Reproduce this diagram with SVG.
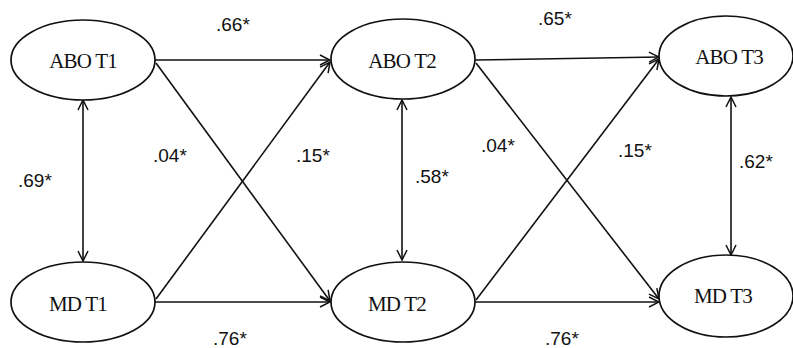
<svg xmlns="http://www.w3.org/2000/svg" width="793" height="348" viewBox="0 0 793 348">
<style>
.node ellipse{fill:#fff;stroke:#111;stroke-width:1.7}
.node text{font-family:"Liberation Serif","Times New Roman",serif;font-size:21px;fill:#111;text-anchor:middle;letter-spacing:-0.8px}
.edge{stroke:#111;stroke-width:1.6;fill:none;marker-end:url(#ah)}
.both{marker-start:url(#ahs)}
.lbl{font-family:"Liberation Sans",Arial,sans-serif;font-size:19px;fill:#111}
</style>
<defs>
<marker id="ah" viewBox="0 0 12 12" refX="11" refY="6" markerWidth="12" markerHeight="12" markerUnits="userSpaceOnUse" orient="auto">
<path d="M1,1 L11,6 L1,11" fill="none" stroke="#111" stroke-width="1.5"/>
</marker>
<marker id="ahs" viewBox="0 0 12 12" refX="11" refY="6" markerWidth="12" markerHeight="12" markerUnits="userSpaceOnUse" orient="auto-start-reverse">
<path d="M1,1 L11,6 L1,11" fill="none" stroke="#111" stroke-width="1.5"/>
</marker>
</defs>
<rect width="793" height="348" fill="#fff"/>
<g id="connectors">
<line class="edge" x1="155" y1="60" x2="330" y2="60"/>
<line class="edge" x1="156" y1="63" x2="330" y2="301"/>
<line class="edge" x1="156" y1="299" x2="330" y2="62"/>
<line class="edge" x1="155" y1="302" x2="330" y2="302"/>
<line class="edge both" x1="83" y1="100" x2="83" y2="261"/>
<line class="edge" x1="475" y1="60" x2="659" y2="57"/>
<line class="edge" x1="476" y1="63" x2="659" y2="299"/>
<line class="edge" x1="476" y1="300" x2="659" y2="59"/>
<line class="edge" x1="475" y1="302" x2="659" y2="302"/>
<line class="edge both" x1="402" y1="100" x2="402" y2="260"/>
<line class="edge both" x1="731" y1="97" x2="731" y2="255"/>
</g>
<g id="ABO_T1" class="node"><ellipse cx="83" cy="60" rx="72" ry="40"/><text x="83" y="68">ABO T1</text></g>
<g id="ABO_T2" class="node"><ellipse cx="403" cy="59" rx="72" ry="40"/><text x="402" y="68">ABO T2</text></g>
<g id="ABO_T3" class="node"><ellipse cx="726" cy="56" rx="67" ry="40"/><text x="729" y="64">ABO T3</text></g>
<g id="MD_T1" class="node"><ellipse cx="83" cy="302" rx="72" ry="40"/><text x="78" y="311">MD T1</text></g>
<g id="MD_T2" class="node"><ellipse cx="403" cy="302" rx="72" ry="40"/><text x="397" y="311">MD T2</text></g>
<g id="MD_T3" class="node"><ellipse cx="726" cy="296" rx="67" ry="41"/><text x="723" y="303">MD T3</text></g>
<g id="labels">
<text class="lbl" x="216" y="31">.66*</text>
<text class="lbl" x="153" y="162">.04*</text>
<text class="lbl" x="296" y="162">.15*</text>
<text class="lbl" x="18" y="187">.69*</text>
<text class="lbl" x="415" y="183">.58*</text>
<text class="lbl" x="538" y="25">.65*</text>
<text class="lbl" x="481" y="152">.04*</text>
<text class="lbl" x="618" y="157">.15*</text>
<text class="lbl" x="739" y="168">.62*</text>
<text class="lbl" x="213" y="345">.76*</text>
<text class="lbl" x="545" y="345">.76*</text>
</g>
</svg>
